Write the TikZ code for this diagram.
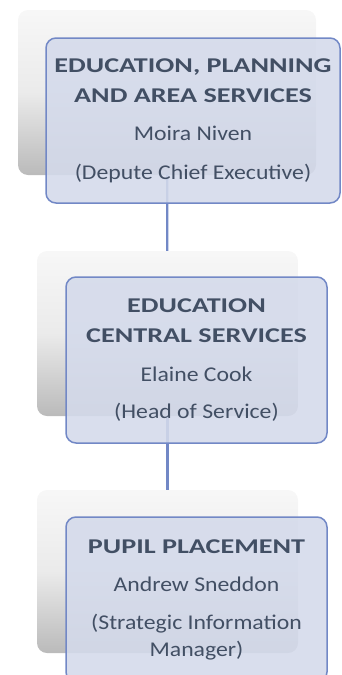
\documentclass[tikz,border=0pt]{standalone}
\usepackage{fontspec}
\setmainfont{Carlito}[FakeStretch=1.13]
\newfontfamily\titlefont{Carlito Bold}[FakeStretch=1.34]
\usetikzlibrary{backgrounds}
\definecolor{boxfill}{RGB}{212,218,235}
\definecolor{boxline}{RGB}{114,136,198}
\definecolor{boxtext}{RGB}{66,79,100}
\tikzset{
  org_shadow/.style = {rounded corners=10pt, inner sep=0pt,
    top color=black!3, bottom color=black!27, middle color=black!8},
  org_box/.style = {rounded corners=10pt, draw=boxline, line width=1.5pt,
    fill=boxfill, fill opacity=0.88, text opacity=1, text=boxtext,
    align=center, inner sep=0pt, font=\fontsize{21}{30}\selectfont},
  org_link/.style = {draw=boxline, line width=2.2pt}}

\begin{document}
\begin{tikzpicture}[x=1pt, y=1pt]
 \useasboundingbox (0,0) rectangle (341,-675);

% top level
\node [org_shadow, minimum width=298pt, minimum height=165pt] (s_epa) at (167,-92.5) {};
\node [org_box, minimum width=294pt, minimum height=165pt] (epa) at (193,-120.5)
  {\titlefont EDUCATION, PLANNING\\\titlefont AND AREA SERVICES\\[8pt]
   Moira Niven\\[9pt] (Depute Chief Executive)};

% central services
\node [org_shadow, minimum width=261pt, minimum height=165pt] (s_ecs) at (167.5,-333.5) {};
\node [org_box, minimum width=261pt, minimum height=166pt] (ecs) at (196.5,-360)
  {\titlefont EDUCATION\\\titlefont CENTRAL SERVICES\\[9pt]
   Elaine Cook\\[7pt] (Head of Service)};

% pupil placement
\node [org_shadow, minimum width=261pt, minimum height=163pt] (s_pp) at (167.5,-571.5) {};
\node [org_box, minimum width=261pt, minimum height=165pt] (pp) at (196.5,-599.5)
  {\titlefont PUPIL PLACEMENT\\[8pt]
   Andrew Sneddon\\[8pt] (Strategic Information\\[-3pt] Manager)};

\begin{scope}[on background layer]
 \draw [org_link] (s_epa.center) -- (s_ecs.center);
 \draw [org_link] (s_ecs.center) -- (s_pp.center);
\end{scope}
\end{tikzpicture}
\end{document}
